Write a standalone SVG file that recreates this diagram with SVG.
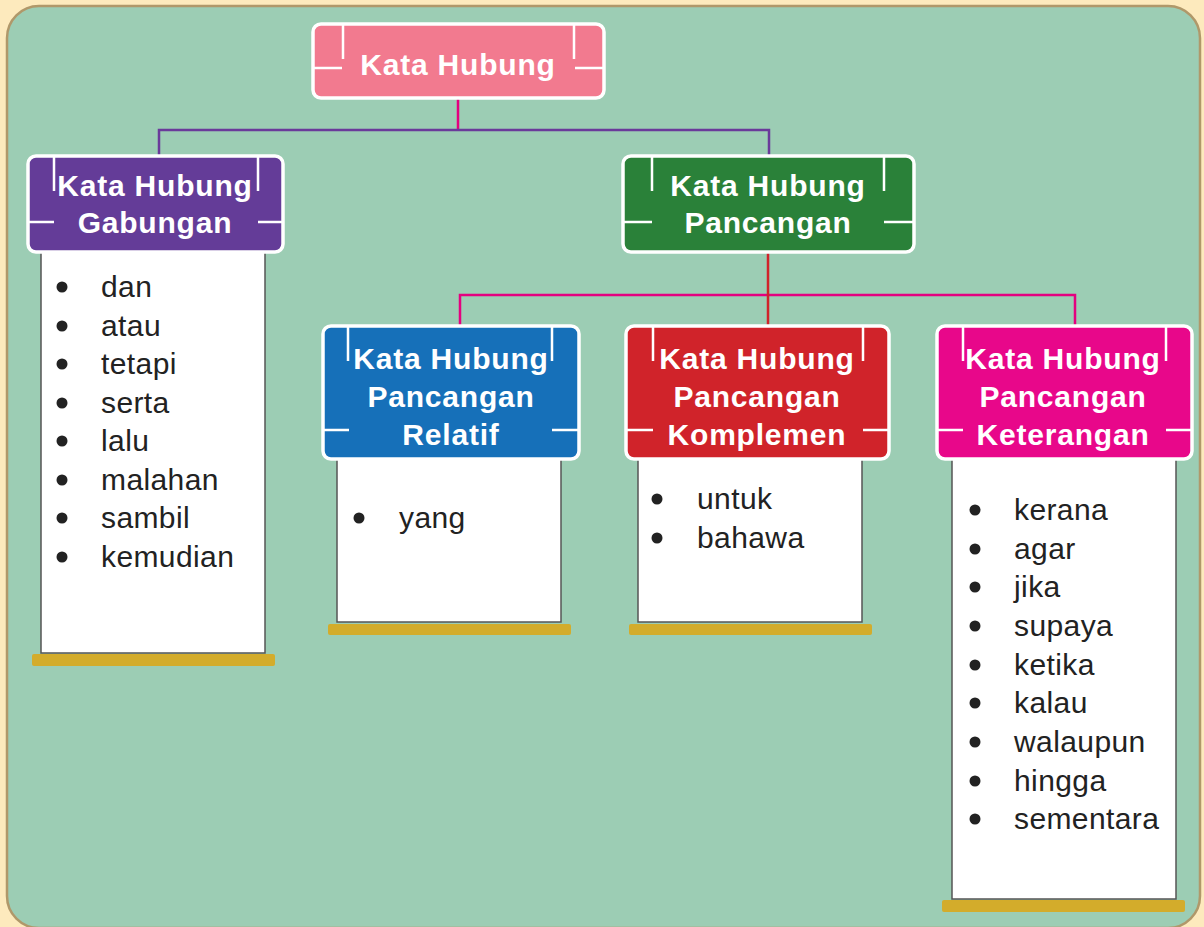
<svg xmlns="http://www.w3.org/2000/svg" width="1204" height="927" viewBox="0 0 1204 927">
<style>
.title{font-family:"Liberation Sans",Arial,sans-serif;font-weight:bold;font-size:30px;fill:#fff;text-anchor:middle;letter-spacing:0.8px}
.item{font-family:"Liberation Sans",Arial,sans-serif;font-size:30px;fill:#222;letter-spacing:0.4px}
.box{stroke:#fff;stroke-width:3.5}
.deco{stroke:#fff;stroke-width:2.5;fill:none}
.panel{fill:#fff;stroke:#555;stroke-width:1.5}
.shelf{fill:#d3ac2b}
.conn{fill:none;stroke-width:2.5}
</style>
<rect x="0" y="0" width="1204" height="927" fill="#fdeabd"/>
<rect x="7" y="6" width="1193" height="922" rx="32" fill="#9ccdb4" stroke="#b0986a" stroke-width="2.5"/>

<g id="connectors">
  <path class="conn" stroke="#e4007f" d="M458 98V130"/>
  <path class="conn" stroke="#6a3a9a" d="M159 156V130H769V156"/>
  <path class="conn" stroke="#e4007f" d="M460 326V295H1075V326"/>
  <path class="conn" stroke="#d0232a" d="M768 252V326"/>
</g>

<g id="kata-hubung">
  <rect class="box" x="313" y="24" width="291" height="74" rx="8" fill="#f27a8f"/>
  <path class="deco" d="M343 24V59M313 68H342M574 24V59M575 68H604"/>
  <text class="title" x="458" y="75">Kata Hubung</text>
</g>

<g id="gabungan">
  <rect class="panel" x="41" y="250" width="224" height="403"/>
  <rect class="shelf" x="32" y="654" width="243" height="12" rx="2"/>
  <rect class="box" x="28" y="156" width="255" height="96" rx="8" fill="#643c98"/>
  <path class="deco" d="M54 156V191M28 222H54M258 156V191M258 222H283"/>
  <text class="title" x="155" y="196">Kata Hubung</text>
  <text class="title" x="155" y="233">Gabungan</text>
  <g fill="#222">
    <circle cx="62" cy="287" r="5.5"/><circle cx="62" cy="326" r="5.5"/><circle cx="62" cy="364" r="5.5"/><circle cx="62" cy="403" r="5.5"/>
    <circle cx="62" cy="441" r="5.5"/><circle cx="62" cy="480" r="5.5"/><circle cx="62" cy="518" r="5.5"/><circle cx="62" cy="557" r="5.5"/>
  </g>
  <text class="item" x="101" y="297">dan</text>
  <text class="item" x="101" y="336">atau</text>
  <text class="item" x="101" y="374">tetapi</text>
  <text class="item" x="101" y="413">serta</text>
  <text class="item" x="101" y="451">lalu</text>
  <text class="item" x="101" y="490">malahan</text>
  <text class="item" x="101" y="528">sambil</text>
  <text class="item" x="101" y="567">kemudian</text>
</g>

<g id="pancangan">
  <rect class="box" x="623" y="156" width="291" height="96" rx="8" fill="#2a8139"/>
  <path class="deco" d="M652 156V191M623 222H652M884 156V191M884 222H914"/>
  <text class="title" x="768" y="196">Kata Hubung</text>
  <text class="title" x="768" y="233">Pancangan</text>
</g>

<g id="relatif">
  <rect class="panel" x="337" y="457" width="224" height="165"/>
  <rect class="shelf" x="328" y="624" width="243" height="11" rx="2"/>
  <rect class="box" x="323" y="326" width="256" height="133" rx="8" fill="#1670b9"/>
  <path class="deco" d="M348 326V361M323 430H349M552 326V361M552 430H579"/>
  <text class="title" x="451" y="369">Kata Hubung</text>
  <text class="title" x="451" y="407">Pancangan</text>
  <text class="title" x="451" y="445">Relatif</text>
  <circle cx="359" cy="518" r="5.5" fill="#222"/>
  <text class="item" x="399" y="528">yang</text>
</g>

<g id="komplemen">
  <rect class="panel" x="638" y="457" width="224" height="165"/>
  <rect class="shelf" x="629" y="624" width="243" height="11" rx="2"/>
  <rect class="box" x="626" y="326" width="263" height="133" rx="8" fill="#d0232a"/>
  <path class="deco" d="M653 326V361M626 430H653M863 326V361M863 430H889"/>
  <text class="title" x="757" y="369">Kata Hubung</text>
  <text class="title" x="757" y="407">Pancangan</text>
  <text class="title" x="757" y="445">Komplemen</text>
  <circle cx="657" cy="499" r="5.5" fill="#222"/>
  <circle cx="657" cy="538" r="5.5" fill="#222"/>
  <text class="item" x="697" y="509">untuk</text>
  <text class="item" x="697" y="548">bahawa</text>
</g>

<g id="keterangan">
  <rect class="panel" x="952" y="457" width="224" height="442"/>
  <rect class="shelf" x="942" y="900" width="243" height="12" rx="2"/>
  <rect class="box" x="937" y="326" width="255" height="133" rx="8" fill="#e8078a"/>
  <path class="deco" d="M963 326V361M937 430H963M1166 326V361M1166 430H1192"/>
  <text class="title" x="1063" y="369">Kata Hubung</text>
  <text class="title" x="1063" y="407">Pancangan</text>
  <text class="title" x="1063" y="445">Keterangan</text>
  <g fill="#222">
    <circle cx="975" cy="510" r="5.5"/><circle cx="975" cy="549" r="5.5"/><circle cx="975" cy="587" r="5.5"/>
    <circle cx="975" cy="626" r="5.5"/><circle cx="975" cy="665" r="5.5"/><circle cx="975" cy="703" r="5.5"/>
    <circle cx="975" cy="742" r="5.5"/><circle cx="975" cy="781" r="5.5"/><circle cx="975" cy="819" r="5.5"/>
  </g>
  <text class="item" x="1014" y="520">kerana</text>
  <text class="item" x="1014" y="559">agar</text>
  <text class="item" x="1014" y="597">jika</text>
  <text class="item" x="1014" y="636">supaya</text>
  <text class="item" x="1014" y="675">ketika</text>
  <text class="item" x="1014" y="713">kalau</text>
  <text class="item" x="1014" y="752">walaupun</text>
  <text class="item" x="1014" y="791">hingga</text>
  <text class="item" x="1014" y="829">sementara</text>
</g>
</svg>
